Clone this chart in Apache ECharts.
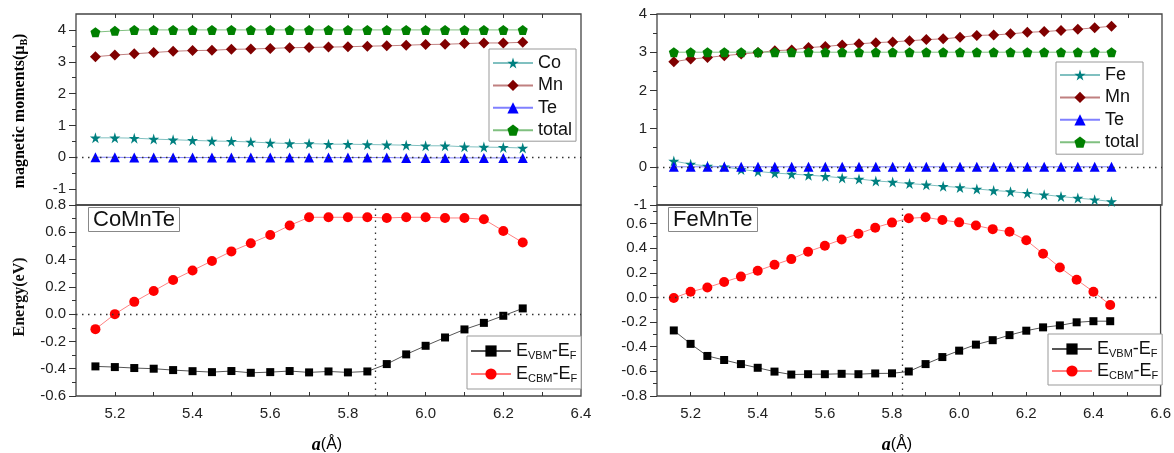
<!DOCTYPE html>
<html><head><meta charset="utf-8">
<script src="https://cdn.jsdelivr.net/npm/echarts@6/dist/echarts.min.js"></script>
<style>html,body{margin:0;padding:0;background:#fff}#c{width:1174px;height:453px}</style>
</head><body><div id="c"></div>
<script>
// ---------- data: CoMnTe (left) ----------
const xCo = [5.15,5.20,5.25,5.30,5.35,5.40,5.45,5.50,5.55,5.60,5.65,5.70,5.75,5.80,5.85,5.90,5.95,6.00,6.05,6.10,6.15,6.20,6.25];
const coMoment = [0.61,0.61,0.60,0.57,0.55,0.53,0.51,0.50,0.48,0.45,0.43,0.43,0.41,0.41,0.40,0.39,0.38,0.36,0.36,0.33,0.32,0.31,0.29];
const mnMomentL = [3.16,3.21,3.25,3.29,3.33,3.35,3.36,3.39,3.40,3.42,3.44,3.45,3.46,3.47,3.49,3.50,3.52,3.54,3.55,3.57,3.59,3.59,3.61];
const teMomentL = [0.00,0.00,-0.01,-0.01,-0.01,-0.01,-0.01,-0.01,-0.01,-0.01,-0.01,-0.01,-0.01,-0.01,-0.01,-0.01,-0.02,-0.02,-0.02,-0.02,-0.02,-0.02,-0.02];
const totalL = [3.93,3.97,4.00,4.00,4.00,4.00,4.00,4.00,4.00,4.00,4.00,4.00,4.00,4.00,4.00,4.00,4.00,4.00,4.00,4.00,4.00,4.00,4.00];
const vbmL = [-0.383,-0.388,-0.395,-0.400,-0.410,-0.418,-0.425,-0.417,-0.430,-0.425,-0.417,-0.427,-0.420,-0.427,-0.420,-0.366,-0.295,-0.232,-0.171,-0.112,-0.064,-0.012,0.042];
const cbmL = [-0.11,0.00,0.09,0.17,0.25,0.32,0.39,0.46,0.52,0.58,0.65,0.71,0.71,0.71,0.71,0.705,0.71,0.71,0.705,0.705,0.695,0.61,0.525];
const vlineL = 5.865;

// ---------- data: FeMnTe (right) ----------
const xFe = [5.15,5.20,5.25,5.30,5.35,5.40,5.45,5.50,5.55,5.60,5.65,5.70,5.75,5.80,5.85,5.90,5.95,6.00,6.05,6.10,6.15,6.20,6.25,6.30,6.35,6.40,6.45];
const feMoment = [0.15,0.07,0.02,0.00,-0.07,-0.12,-0.165,-0.19,-0.22,-0.25,-0.29,-0.32,-0.37,-0.40,-0.44,-0.47,-0.51,-0.54,-0.58,-0.62,-0.65,-0.69,-0.73,-0.78,-0.82,-0.86,-0.91];
const mnMomentR = [2.75,2.82,2.86,2.91,2.95,2.99,3.04,3.06,3.12,3.15,3.19,3.22,3.25,3.27,3.30,3.33,3.35,3.39,3.44,3.45,3.48,3.52,3.54,3.57,3.60,3.64,3.68];
const teMomentR = [0.00,0.00,0.00,0.00,0.00,0.00,0.00,0.00,0.00,0.00,0.00,0.00,0.00,0.00,0.00,0.00,0.00,0.00,0.00,0.00,0.00,0.00,0.00,0.00,0.00,0.00,0.00];
const totalR = [3.00,3.00,3.00,3.00,3.00,3.00,3.00,3.00,3.00,3.00,3.00,3.00,3.00,3.00,3.00,3.00,3.00,3.00,3.00,3.00,3.00,3.00,3.00,3.00,3.00,3.00,3.00];
const vbmR = [-0.268,-0.377,-0.475,-0.508,-0.541,-0.571,-0.602,-0.626,-0.623,-0.623,-0.620,-0.623,-0.617,-0.616,-0.601,-0.541,-0.484,-0.432,-0.383,-0.347,-0.306,-0.270,-0.243,-0.227,-0.202,-0.193,-0.193];
const cbmR = [-0.005,0.046,0.08,0.125,0.169,0.216,0.265,0.311,0.371,0.42,0.47,0.516,0.566,0.607,0.642,0.65,0.628,0.609,0.584,0.554,0.533,0.464,0.355,0.243,0.144,0.046,-0.061];
const vlineR = 5.835;

// ---------- ticks ----------
const xLabelsL = [5.2,5.4,5.6,5.8,6.0,6.2,6.4];
const xTicksL = [5.2,5.3,5.4,5.5,5.6,5.7,5.8,5.9,6.0,6.1,6.2,6.3];
const xLabelsR = [5.2,5.4,5.6,5.8,6.0,6.2,6.4,6.6];
const xTicksR = [5.2,5.3,5.4,5.5,5.6,5.7,5.8,5.9,6.0,6.1,6.2,6.3,6.4,6.5];
const yLabelsTopL = [-1,0,1,2,3,4];
const yMinorTopL = [-0.5,0.5,1.5,2.5,3.5];
const yLabelsBotL = [-0.6,-0.4,-0.2,0.0,0.2,0.4,0.6,0.8];
const yMinorBotL = [-0.5,-0.3,-0.1,0.1,0.3,0.5,0.7];
const yLabelsTopR = [-1,0,1,2,3,4];
const yMinorTopR = [-0.5,0.5,1.5,2.5,3.5];
const yLabelsBotR = [-0.8,-0.6,-0.4,-0.2,0.0,0.2,0.4,0.6];
const yMinorBotR = [-0.7,-0.5,-0.3,-0.1,0.1,0.3,0.5,0.7];

const STAR = 'path://M50,0 L61,35 L98,35 L68,57 L79,91 L50,70 L21,91 L32,57 L2,35 L39,35 Z';
const PENT = 'path://M50,0 L98,36 L80,95 L20,95 L2,36 Z';
const SANS = '"Liberation Sans", Arial, sans-serif';
const SERIF = '"Liberation Serif", "Times New Roman", serif';

function pairs(xs, ys) { return xs.map((x, i) => [x, ys[i]]); }

const dotStyle = { color: '#333', width: 1.3, type: [1.5, 4.5] };
function mark(items) {
  return { silent: true, symbol: ['none', 'none'], label: { show: false }, lineStyle: dotStyle, animation: false,
    emphasis: { disabled: true }, data: items };
}

function ser(name, xs, ys, xi, yi, sym, size, col, lcol, extra) {
  return Object.assign({
    type: 'line', name: name, xAxisIndex: xi, yAxisIndex: yi, data: pairs(xs, ys),
    symbol: sym, symbolSize: size, showSymbol: true, showAllSymbol: true,
    itemStyle: { color: col, borderWidth: 0 }, lineStyle: { color: lcol, width: 1 },
    emphasis: { disabled: true }, animation: false, z: 3
  }, extra || {});
}

const grids = [
  { left: 76, top: 14, width: 505, height: 191 },
  { left: 76, top: 205, width: 505, height: 191 },
  { left: 657, top: 14, width: 505, height: 191 },
  { left: 657, top: 205, width: 505, height: 191 }
].map(g => Object.assign(g, { show: true, borderColor: '#444', borderWidth: 1.3, backgroundColor: 'transparent', containLabel: false }));

function xAx(gi, min, max, ticks, labels, top) {
  return {
    type: 'value', gridIndex: gi, min: min, max: max, position: top ? 'top' : 'bottom',
    axisLine: { show: false, onZero: false }, splitLine: { show: false },
    axisTick: { show: true, inside: true, length: 4, customValues: ticks, lineStyle: { color: '#333', width: 1 } },
    axisLabel: labels ? { show: true, customValues: labels, margin: 10, fontSize: 15, color: '#222', fontFamily: SANS,
      formatter: v => Number(v).toFixed(1) } : { show: false }
  };
}
function yAx(gi, min, max, labels, dec) {
  return {
    type: 'value', gridIndex: gi, min: min, max: max, position: 'left',
    axisLine: { show: false, onZero: false }, splitLine: { show: false },
    axisTick: { show: true, inside: false, length: 7, customValues: labels, lineStyle: { color: '#333', width: 1 } },
    axisLabel: { show: true, customValues: labels, margin: 10, fontSize: 15, color: '#222', fontFamily: SANS,
      formatter: v => dec ? Number(v).toFixed(1) : String(Math.round(v)) }
  };
}
function yMinor(gi, min, max, ticks) {
  return {
    type: 'value', gridIndex: gi, min: min, max: max, position: 'left',
    axisLine: { show: false, onZero: false }, splitLine: { show: false },
    axisTick: { show: true, inside: false, length: 4, customValues: ticks, lineStyle: { color: '#333', width: 1 } },
    axisLabel: { show: false }
  };
}

const nameMap = { 'Co': 'Co', 'Mn': 'Mn', 'Te': 'Te', 'total': 'total', 'Fe': 'Fe', 'Mn ': 'Mn', 'Te ': 'Te', 'total ': 'total',
  'VBM': '{b|E}{s|VBM}{b|-E}{s|F}', 'CBM': '{b|E}{s|CBM}{b|-E}{s|F}', 'VBM ': '{b|E}{s|VBM}{b|-E}{s|F}', 'CBM ': '{b|E}{s|CBM}{b|-E}{s|F}' };
const richE = { b: { fontSize: 18, lineHeight: 20, fontFamily: SANS, color: '#111' },
  s: { fontSize: 11, lineHeight: 10, verticalAlign: 'bottom', fontFamily: SANS, color: '#111' } };

function leg(left, top, names, gap, lh, pad) {
  return {
    orient: 'vertical', left: left, top: top, data: names, itemWidth: 40, itemHeight: 14, itemGap: gap,
    padding: pad, borderColor: '#999', borderWidth: 1, borderRadius: 0, backgroundColor: '#fff',
    selectedMode: false, formatter: n => nameMap[n],
    textStyle: { fontSize: 18, lineHeight: lh, color: '#111', fontFamily: SANS, padding: [0, 0, 0, 0], rich: richE }
  };
}

const option = {
  animation: false,
  textStyle: { fontFamily: SANS },
  grid: grids,
  xAxis: [
    xAx(0, 5.1, 6.4, xTicksL, null, true),
    xAx(1, 5.1, 6.4, xTicksL, xLabelsL, false),
    xAx(2, 5.1, 6.6, xTicksR, null, true),
    xAx(3, 5.1, 6.6, xTicksR, xLabelsR, false)
  ],
  yAxis: [
    yAx(0, -1.5, 4.5, yLabelsTopL, false), yMinor(0, -1.5, 4.5, yMinorTopL),
    yAx(1, -0.6, 0.8, yLabelsBotL, true), yMinor(1, -0.6, 0.8, yMinorBotL),
    yAx(2, -1, 4, yLabelsTopR, false), yMinor(2, -1, 4, yMinorTopR),
    yAx(3, -0.8, 0.75, yLabelsBotR, true), yMinor(3, -0.8, 0.75, yMinorBotR)
  ],
  legend: [
    leg(489, 49, ['Co', 'Mn', 'Te', 'total'], 4.4, 18, [5, 4, 2, 3]),
    leg(467, 336, ['VBM', 'CBM'], 3, 22, [5, 4, 5, 3]),
    leg(1056, 62, ['Fe', 'Mn ', 'Te ', 'total '], 4.4, 18, [4, 4, 3, 3]),
    leg(1048, 334, ['VBM ', 'CBM '], 2, 22, [5, 4, 4, 3])
  ],
  title: [
    { text: 'CoMnTe', left: 88, top: 207, padding: [2, 5, 1, 5], borderColor: '#888', borderWidth: 1,
      textStyle: { fontSize: 22, fontWeight: 'normal', color: '#111', fontFamily: SANS } },
    { text: 'FeMnTe', left: 668, top: 207, padding: [2, 5, 1, 5], borderColor: '#888', borderWidth: 1,
      textStyle: { fontSize: 22, fontWeight: 'normal', color: '#111', fontFamily: SANS } }
  ],
  graphic: [
    { type: 'text', x: 20, y: 111, rotation: Math.PI / 2,
      style: { text: '{n|magnetic moments(μ}{s|B}{n|)}', align: 'center', verticalAlign: 'middle',
        rich: { n: { fontSize: 16, fontWeight: 'bold', fontFamily: SERIF, color: '#111', lineHeight: 18 },
                s: { fontSize: 10, fontWeight: 'bold', fontFamily: SERIF, color: '#111', lineHeight: 9, verticalAlign: 'bottom' } } } },
    { type: 'text', x: 20, y: 297, rotation: Math.PI / 2,
      style: { text: 'Energy(eV)', align: 'center', verticalAlign: 'middle', fontSize: 16, fontWeight: 'bold', fontFamily: SERIF, fill: '#111' } },
    { type: 'text', x: 327, y: 445,
      style: { text: '{i|a}{n|(Å)}', align: 'center', verticalAlign: 'middle',
        rich: { i: { fontSize: 18, fontStyle: 'italic', fontWeight: 'bold', fontFamily: SERIF, color: '#111' },
                n: { fontSize: 16, fontFamily: SANS, color: '#111' } } } },
    { type: 'text', x: 897, y: 445,
      style: { text: '{i|a}{n|(Å)}', align: 'center', verticalAlign: 'middle',
        rich: { i: { fontSize: 18, fontStyle: 'italic', fontWeight: 'bold', fontFamily: SERIF, color: '#111' },
                n: { fontSize: 16, fontFamily: SANS, color: '#111' } } } }
  ],
  series: [
    ser('Co', xCo, coMoment, 0, 0, STAR, 11, '#008080', '#80c0c0'),
    ser('Mn', xCo, mnMomentL, 0, 0, 'diamond', [11, 11], '#800000', '#c08080'),
    ser('Te', xCo, teMomentL, 0, 0, 'triangle', 10, '#0000ff', '#8080ff', { markLine: mark([{ yAxis: 0 }]) }),
    ser('total', xCo, totalL, 0, 0, PENT, 10, '#008000', '#80c080'),
    ser('VBM', xCo, vbmL, 1, 2, 'rect', 8, '#000000', '#555555', { markLine: mark([{ yAxis: 0 }, { xAxis: vlineL }]) }),
    ser('CBM', xCo, cbmL, 1, 2, 'circle', 10, '#ff0000', '#ff8080'),
    ser('Fe', xFe, feMoment, 2, 4, STAR, 11, '#008080', '#80c0c0'),
    ser('Mn ', xFe, mnMomentR, 2, 4, 'diamond', [11, 11], '#800000', '#c08080'),
    ser('Te ', xFe, teMomentR, 2, 4, 'triangle', 10, '#0000ff', '#8080ff', { markLine: mark([{ yAxis: 0 }]) }),
    ser('total ', xFe, totalR, 2, 4, PENT, 10, '#008000', '#80c080'),
    ser('VBM ', xFe, vbmR, 3, 6, 'rect', 8, '#000000', '#555555', { markLine: mark([{ yAxis: 0 }, { xAxis: vlineR }]) }),
    ser('CBM ', xFe, cbmR, 3, 6, 'circle', 10, '#ff0000', '#ff8080')
  ]
};

const chart = echarts.init(document.getElementById('c'), null, { renderer: 'canvas' });
chart.setOption(option);
</script>
</body></html>
